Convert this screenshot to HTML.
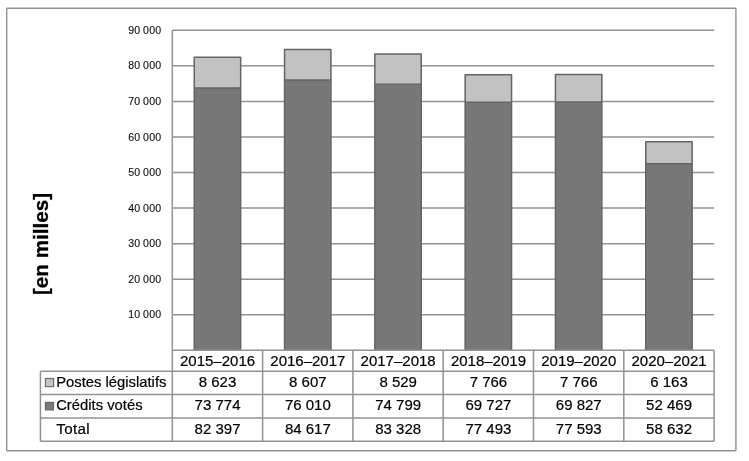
<!DOCTYPE html>
<html lang="fr">
<head>
<meta charset="utf-8">
<title>Graphique</title>
<style>
html,body{margin:0;padding:0;background:#fff;}
body{width:749px;height:461px;overflow:hidden;}
svg{display:block;}
.ax{font-family:"Liberation Sans",sans-serif;font-size:10.6px;fill:#111;stroke:#111;stroke-width:0.12px;letter-spacing:0.19px;word-spacing:-0.45px;}
.tb{font-family:"Liberation Sans",sans-serif;font-size:14.8px;fill:#000;stroke:#000;stroke-width:0.2px;}
.tn{font-size:15px;}
.yt{font-family:"Liberation Sans",sans-serif;font-size:20.65px;font-weight:bold;fill:#000;stroke:#000;stroke-width:0.3px;}
</style>
</head>
<body>
<svg width="749" height="461" viewBox="0 0 749 461">
<rect x="0" y="0" width="749" height="461" fill="#ffffff"/>
<rect x="6.7" y="8.3" width="729.2" height="442.5" rx="0.6" fill="#ffffff" stroke="#929292" stroke-width="1.4"/>
<g stroke="#929292" stroke-width="1.5" fill="none">
<line x1="172.3" y1="314.77" x2="714.1" y2="314.77"/>
<line x1="172.3" y1="279.21" x2="714.1" y2="279.21"/>
<line x1="172.3" y1="243.64" x2="714.1" y2="243.64"/>
<line x1="172.3" y1="208.08" x2="714.1" y2="208.08"/>
<line x1="172.3" y1="172.51" x2="714.1" y2="172.51"/>
<line x1="172.3" y1="136.95" x2="714.1" y2="136.95"/>
<line x1="172.3" y1="101.38" x2="714.1" y2="101.38"/>
<line x1="172.3" y1="65.82" x2="714.1" y2="65.82"/>
<line x1="172.3" y1="30.25" x2="714.1" y2="30.25"/>
</g>
<rect x="194.25" y="57.29" width="46.4" height="30.67" fill="#c2c2c2"/>
<rect x="194.25" y="87.96" width="46.4" height="262.38" fill="#787878"/>
<path d="M194.25 350.34V57.29H240.65V350.34M194.25 87.96H240.65" fill="none" stroke="#646464" stroke-width="1.5" stroke-linejoin="round"/>
<rect x="284.55" y="49.39" width="46.4" height="30.61" fill="#c2c2c2"/>
<rect x="284.55" y="80.01" width="46.4" height="270.33" fill="#787878"/>
<path d="M284.55 350.34V49.39H330.95V350.34M284.55 80.01H330.95" fill="none" stroke="#646464" stroke-width="1.5" stroke-linejoin="round"/>
<rect x="374.85" y="53.98" width="46.4" height="30.33" fill="#c2c2c2"/>
<rect x="374.85" y="84.31" width="46.4" height="266.03" fill="#787878"/>
<path d="M374.85 350.34V53.98H421.25V350.34M374.85 84.31H421.25" fill="none" stroke="#646464" stroke-width="1.5" stroke-linejoin="round"/>
<rect x="465.15" y="74.73" width="46.4" height="27.62" fill="#c2c2c2"/>
<rect x="465.15" y="102.35" width="46.4" height="247.99" fill="#787878"/>
<path d="M465.15 350.34V74.73H511.55V350.34M465.15 102.35H511.55" fill="none" stroke="#646464" stroke-width="1.5" stroke-linejoin="round"/>
<rect x="555.45" y="74.38" width="46.4" height="27.62" fill="#c2c2c2"/>
<rect x="555.45" y="102.00" width="46.4" height="248.34" fill="#787878"/>
<path d="M555.45 350.34V74.38H601.85V350.34M555.45 102.00H601.85" fill="none" stroke="#646464" stroke-width="1.5" stroke-linejoin="round"/>
<rect x="645.75" y="141.81" width="46.4" height="21.92" fill="#c2c2c2"/>
<rect x="645.75" y="163.73" width="46.4" height="186.61" fill="#787878"/>
<path d="M645.75 350.34V141.81H692.15V350.34M645.75 163.73H692.15" fill="none" stroke="#646464" stroke-width="1.5" stroke-linejoin="round"/>
<g stroke="#929292" stroke-width="1.5" fill="none">
<line x1="172.3" y1="30.25" x2="172.3" y2="441.3"/>
<line x1="262.60" y1="350.34" x2="262.60" y2="441.3"/>
<line x1="352.90" y1="350.34" x2="352.90" y2="441.3"/>
<line x1="443.20" y1="350.34" x2="443.20" y2="441.3"/>
<line x1="533.50" y1="350.34" x2="533.50" y2="441.3"/>
<line x1="623.80" y1="350.34" x2="623.80" y2="441.3"/>
<line x1="714.10" y1="350.34" x2="714.10" y2="441.3"/>
<line x1="40.45" y1="371.35" x2="40.45" y2="441.3"/>
<line x1="172.3" y1="350.34" x2="714.1" y2="350.34"/>
<line x1="40.45" y1="371.35" x2="714.1" y2="371.35"/>
<line x1="40.45" y1="394.5" x2="714.1" y2="394.5"/>
<line x1="40.45" y1="418.0" x2="714.1" y2="418.0"/>
<line x1="40.45" y1="441.3" x2="714.1" y2="441.3"/>
</g>
<g class="ax" text-anchor="end">
<text x="161.3" y="318.37">10 000</text>
<text x="161.3" y="282.81">20 000</text>
<text x="161.3" y="247.24">30 000</text>
<text x="161.3" y="211.68">40 000</text>
<text x="161.3" y="176.11">50 000</text>
<text x="161.3" y="140.55">60 000</text>
<text x="161.3" y="104.98">70 000</text>
<text x="161.3" y="69.42">80 000</text>
<text x="161.3" y="33.85">90 000</text>
</g>
<text class="yt" text-anchor="middle" transform="translate(47.95 244.0) rotate(-90)">[en milles]</text>
<g class="tb tn" text-anchor="middle">
<text x="217.55" y="366.1">2015–2016</text>
<text x="217.55" y="387.2">8 623</text>
<text x="217.55" y="410.3">73 774</text>
<text x="217.55" y="433.8">82 397</text>
<text x="307.85" y="366.1">2016–2017</text>
<text x="307.85" y="387.2">8 607</text>
<text x="307.85" y="410.3">76 010</text>
<text x="307.85" y="433.8">84 617</text>
<text x="398.15" y="366.1">2017–2018</text>
<text x="398.15" y="387.2">8 529</text>
<text x="398.15" y="410.3">74 799</text>
<text x="398.15" y="433.8">83 328</text>
<text x="488.45" y="366.1">2018–2019</text>
<text x="488.45" y="387.2">7 766</text>
<text x="488.45" y="410.3">69 727</text>
<text x="488.45" y="433.8">77 493</text>
<text x="578.75" y="366.1">2019–2020</text>
<text x="578.75" y="387.2">7 766</text>
<text x="578.75" y="410.3">69 827</text>
<text x="578.75" y="433.8">77 593</text>
<text x="669.05" y="366.1">2020–2021</text>
<text x="669.05" y="387.2">6 163</text>
<text x="669.05" y="410.3">52 469</text>
<text x="669.05" y="433.8">58 632</text>
</g>
<g class="tb">
<rect x="45.4" y="378.5" width="8.2" height="8.1" fill="#c4c4c4" stroke="#6e6e6e" stroke-width="1.2"/>
<text x="56.2" y="387.2">Postes législatifs</text>
<rect x="45.4" y="402.4" width="8.1" height="7.5" fill="#787878" stroke="#666666" stroke-width="1.2"/>
<text x="56.2" y="410.3">Crédits votés</text>
<text x="56.2" y="433.8" style="font-size:15.2px;letter-spacing:0.35px">Total</text>
</g>
</svg>
</body>
</html>
